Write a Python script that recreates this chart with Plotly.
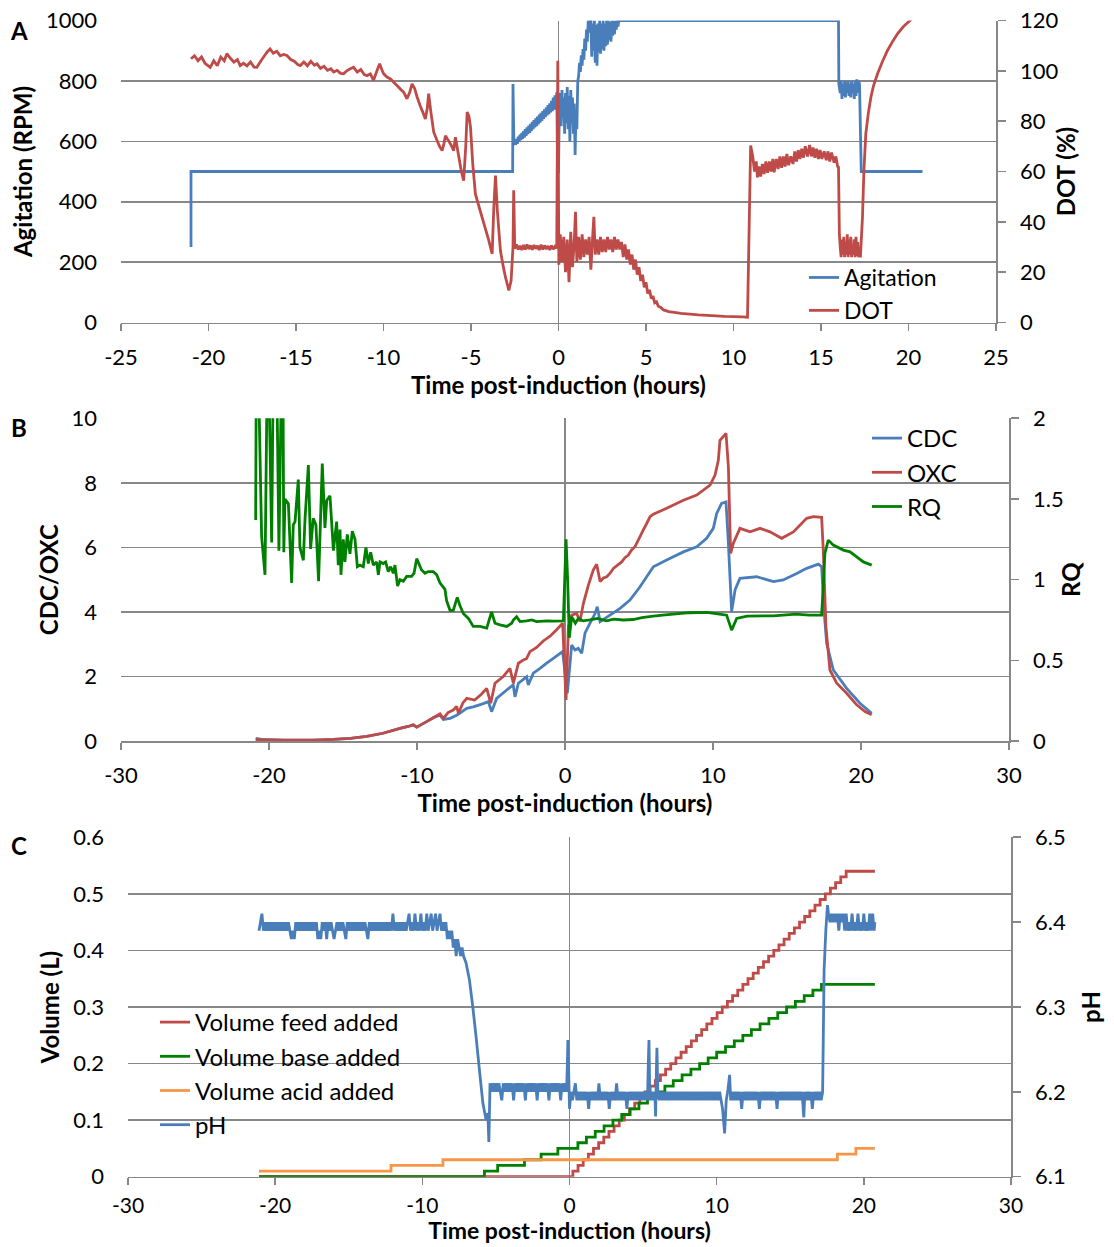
import plotly.graph_objects as go

# ---------------- Panel A: agitation (RPM) and DOT (%) vs time (h) ----------------
agitation_points = [
    (-21.0, 250), (-21.0, 500), (-2.62, 500), (-2.6, 790), (-2.55, 590),
    (-2.5, 600), (-2.45, 588), (-2.4, 608), (-2.35, 592), (-2.3, 615), (-2.25, 598), (-2.2, 622),
    (-2.15, 604), (-2.1, 628), (-2.05, 608), (-2.0, 634), (-1.95, 612), (-1.9, 640), (-1.85, 618),
    (-1.8, 646), (-1.75, 624), (-1.7, 652), (-1.65, 628), (-1.6, 658), (-1.55, 634), (-1.5, 664),
    (-1.45, 640), (-1.4, 670), (-1.35, 646), (-1.3, 676), (-1.25, 650), (-1.2, 682), (-1.15, 656),
    (-1.1, 688), (-1.05, 662), (-1.0, 694), (-0.95, 668), (-0.9, 700), (-0.85, 674), (-0.8, 706),
    (-0.75, 680), (-0.7, 712), (-0.65, 686), (-0.6, 720), (-0.55, 690), (-0.5, 726), (-0.45, 696),
    (-0.4, 734), (-0.35, 700), (-0.3, 745), (-0.25, 705), (-0.2, 752), (-0.15, 712), (-0.1, 762),
    (-0.05, 500), (0.0, 500), (0.05, 720),
    (0.1, 760), (0.15, 650), (0.2, 770), (0.25, 680), (0.3, 745), (0.35, 625), (0.4, 760),
    (0.45, 660), (0.5, 780), (0.55, 640), (0.6, 750), (0.65, 600), (0.7, 770), (0.75, 660),
    (0.8, 745), (0.85, 625), (0.9, 725), (0.95, 555), (1.0, 700), (1.05, 640), (1.1, 800),
    (1.15, 815), (1.2, 860), (1.25, 830), (1.3, 885), (1.35, 850), (1.4, 905), (1.45, 870),
    (1.5, 940), (1.55, 900), (1.6, 970), (1.65, 930), (1.7, 1000), (1.75, 960), (1.8, 1000),
    (1.85, 1000), (1.9, 880), (1.95, 990), (2.0, 900), (2.05, 1000), (2.1, 860), (2.15, 985),
    (2.2, 850), (2.25, 990), (2.3, 895), (2.35, 1000), (2.4, 890), (2.45, 990), (2.5, 905),
    (2.55, 1000), (2.6, 900), (2.65, 990), (2.7, 915), (2.75, 1000), (2.8, 920), (2.85, 1000),
    (2.9, 935), (2.95, 995), (3.0, 930), (3.05, 1000), (3.1, 950), (3.15, 1000), (3.2, 955),
    (3.25, 1000), (3.3, 970), (3.35, 1000), (3.4, 980), (3.45, 1000), (3.55, 1000),
    (16.0, 1000), (16.02, 790), (16.1, 760), (16.15, 800), (16.2, 740), (16.25, 790), (16.3, 750),
    (16.35, 800), (16.4, 745), (16.45, 795), (16.5, 760), (16.55, 800), (16.6, 750), (16.65, 790),
    (16.7, 745), (16.75, 800), (16.8, 760), (16.85, 790), (16.9, 740), (16.95, 800), (17.0, 750),
    (17.05, 805), (17.1, 760), (17.15, 800), (17.2, 790), (17.3, 500), (20.8, 500),
]

dot_points = [
    (-21.0, 104.8), (-20.8, 106.0), (-20.6, 104.0), (-20.4, 105.5), (-20.2, 103.0), (-19.9, 101.4),
    (-19.7, 104.0), (-19.5, 102.0), (-19.3, 105.5), (-19.1, 104.0), (-18.95, 106.8), (-18.75, 105.0),
    (-18.55, 103.5), (-18.35, 104.5), (-18.19, 102.1), (-18.0, 103.0), (-17.8, 102.0), (-17.6, 103.5),
    (-17.4, 101.5), (-17.24, 101.4), (-17.0, 104.0), (-16.8, 106.0), (-16.65, 107.5), (-16.48, 108.7),
    (-16.3, 107.0), (-16.1, 107.8), (-15.9, 106.0), (-15.7, 106.5), (-15.52, 106.1), (-15.3, 104.5),
    (-15.1, 103.8), (-14.9, 102.5), (-14.76, 102.1), (-14.55, 103.5), (-14.35, 102.0), (-14.15, 103.8),
    (-13.95, 102.2), (-13.8, 102.8), (-13.6, 101.0), (-13.4, 101.8), (-13.2, 100.2), (-13.0, 100.8),
    (-12.85, 99.5), (-12.65, 100.2), (-12.45, 99.0), (-12.28, 98.8), (-12.1, 100.0), (-11.9, 100.8),
    (-11.71, 101.4), (-11.5, 99.5), (-11.3, 100.5), (-11.1, 98.5), (-10.94, 98.1), (-10.75, 98.8),
    (-10.57, 96.2), (-10.4, 99.5), (-10.22, 102.8), (-10.1, 100.5), (-9.99, 98.8), (-9.8, 97.5),
    (-9.6, 96.8), (-9.42, 95.5), (-9.2, 94.0), (-9.0, 92.5), (-8.85, 91.5), (-8.66, 88.9),
    (-8.5, 91.5), (-8.37, 94.8), (-8.22, 93.0), (-8.08, 89.6), (-7.9, 86.0), (-7.75, 83.5),
    (-7.61, 80.9), (-7.5, 85.0), (-7.42, 90.9), (-7.3, 84.0), (-7.13, 75.6), (-6.95, 72.5),
    (-6.8, 70.0), (-6.65, 68.3), (-6.55, 71.0), (-6.46, 74.2), (-6.36, 73.0), (-6.27, 72.1),
    (-6.1, 70.0), (-5.99, 68.3), (-5.89, 73.6), (-5.7, 66.0), (-5.55, 60.0), (-5.42, 56.4),
    (-5.3, 70.0), (-5.22, 83.6), (-5.12, 82.0), (-5.03, 77.7), (-4.9, 63.0), (-4.75, 51.1),
    (-4.5, 45.0), (-4.25, 39.0), (-4.0, 33.0), (-3.79, 27.3), (-3.7, 45.0), (-3.6, 58.4),
    (-3.5, 45.0), (-3.32, 28.6), (-3.15, 22.0), (-3.03, 18.0), (-2.92, 15.0), (-2.84, 12.7),
    (-2.71, 16.6), (-2.6, 30.0), (-2.56, 52.5), (-2.5, 29.3),
    (-2.4, 31.0), (-2.3, 29.0), (-2.2, 30.5), (-2.1, 28.8), (-2.0, 30.8), (-1.9, 29.0), (-1.8, 31.0),
    (-1.7, 29.2), (-1.6, 30.6), (-1.5, 28.9), (-1.4, 30.8), (-1.3, 29.3), (-1.2, 30.5), (-1.1, 28.8),
    (-1.0, 30.9), (-0.9, 29.0), (-0.8, 30.6), (-0.7, 29.2), (-0.6, 30.4), (-0.5, 28.8), (-0.4, 30.6),
    (-0.3, 29.1), (-0.2, 30.2), (-0.1, 29.5), (-0.04, 104.0), (0.02, 23.0),
    (0.1, 35), (0.2, 24), (0.3, 34), (0.4, 20), (0.5, 33), (0.6, 16), (0.7, 36), (0.8, 22),
    (0.9, 32), (0.97, 44), (1.05, 24), (1.15, 34), (1.25, 25), (1.35, 35), (1.45, 26), (1.55, 33),
    (1.65, 27), (1.75, 34), (1.85, 21), (1.95, 34), (2.02, 42), (2.1, 27), (2.2, 33), (2.3, 27),
    (2.4, 34), (2.5, 28), (2.6, 33), (2.7, 28), (2.8, 34), (2.9, 29), (3.0, 33), (3.1, 28),
    (3.2, 34), (3.3, 29), (3.4, 33), (3.5, 29),
    (3.6, 32), (3.7, 26), (3.8, 31), (3.9, 25), (4.0, 29), (4.1, 23), (4.2, 27), (4.3, 21),
    (4.4, 25), (4.5, 19), (4.6, 22), (4.7, 16.5), (4.8, 19), (4.9, 14), (5.0, 16), (5.1, 11.5),
    (5.2, 13), (5.3, 9.5), (5.4, 10.5), (5.5, 7.8), (5.6, 8.2), (5.7, 6.5), (5.8, 6.2), (6.0, 5.0),
    (6.3, 4.3), (6.6, 4.0), (7.0, 3.6), (7.5, 3.3), (8.0, 3.0), (8.5, 2.8), (9.0, 2.6), (9.5, 2.4),
    (10.0, 2.3), (10.5, 2.2), (10.8, 2.1), (10.9, 40.0), (10.98, 70.3),
    (11.1, 66), (11.2, 60), (11.3, 64), (11.37, 57.7), (11.45, 62), (11.55, 58), (11.65, 63),
    (11.75, 59), (11.85, 64), (11.95, 59.5), (12.05, 64), (12.15, 60), (12.25, 65), (12.32, 59.7),
    (12.45, 65), (12.55, 61), (12.65, 66), (12.75, 61.5), (12.85, 66), (12.95, 62), (13.05, 67),
    (13.15, 62.5), (13.27, 66), (13.4, 63), (13.5, 68), (13.6, 64), (13.7, 68.5), (13.8, 65),
    (13.9, 69), (14.0, 65.5), (14.1, 70), (14.23, 66), (14.35, 70.5), (14.45, 66), (14.55, 69.5),
    (14.65, 65.5), (14.75, 69), (14.85, 65), (14.95, 68.5), (15.05, 65), (15.18, 68), (15.3, 64.5),
    (15.4, 68), (15.5, 64), (15.6, 67.5), (15.75, 63.5), (15.85, 66), (15.95, 62), (16.0, 61.7),
    (16.05, 35), (16.1, 30), (16.15, 26), (16.2, 33), (16.25, 27), (16.3, 34), (16.35, 26),
    (16.4, 32), (16.45, 27), (16.5, 35), (16.55, 26), (16.6, 33), (16.65, 27), (16.7, 34),
    (16.75, 26), (16.8, 31), (16.85, 27), (16.9, 33), (16.95, 26), (17.0, 34), (17.05, 26.5),
    (17.1, 32), (17.15, 26), (17.2, 30), (17.25, 25.9), (17.37, 41.8), (17.45, 60), (17.56, 75),
    (17.7, 83), (17.85, 89.5), (18.0, 94), (18.23, 98.8), (18.5, 103.5), (18.8, 108.1),
    (19.1, 111.8), (19.38, 114.8), (19.7, 117.5), (20.04, 119.7), (20.15, 120.5),
]

# ---------------- Panel B: CDC / OXC and RQ ----------------
cdc_points = [
    (-20.9, 0.08), (-20.5, 0.05), (-19.0, 0.03), (-17.0, 0.03), (-15.65, 0.05), (-14.5, 0.08),
    (-13.4, 0.14), (-12.3, 0.24), (-11.15, 0.39), (-10.6, 0.45), (-10.25, 0.5), (-10.02, 0.43),
    (-9.35, 0.60), (-8.9, 0.72), (-8.45, 0.80), (-8.22, 0.67), (-7.77, 0.70), (-7.32, 0.80),
    (-6.98, 0.90), (-6.64, 1.01), (-6.2, 1.06), (-5.52, 1.16), (-5.18, 1.22), (-4.96, 0.91),
    (-4.62, 1.32), (-3.94, 1.58), (-3.5, 1.74), (-3.38, 1.37), (-3.15, 1.79), (-2.59, 1.99),
    (-2.48, 1.74), (-2.14, 2.10), (-1.69, 2.25), (-1.24, 2.41), (-0.79, 2.56), (-0.16, 2.77),
    (0.16, 1.48), (0.45, 2.97), (0.68, 2.82), (0.9, 2.87), (1.13, 2.72), (1.35, 3.34), (1.69, 3.65),
    (2.03, 3.95), (2.18, 4.16), (2.37, 3.70), (3.04, 3.90), (3.72, 4.11), (4.39, 4.37), (5.07, 4.78),
    (5.52, 5.09), (5.97, 5.40), (6.87, 5.61), (8.0, 5.86), (8.9, 6.02), (9.57, 6.28), (10.02, 6.59),
    (10.25, 7.05), (10.58, 7.36), (10.88, 7.41), (11.04, 6.12), (11.26, 4.01), (11.49, 4.68),
    (11.82, 5.04), (12.95, 5.09), (14.08, 4.94), (14.75, 4.99), (15.65, 5.19), (16.33, 5.35),
    (17.12, 5.48), (17.34, 5.40), (17.5, 4.06), (17.68, 3.03), (18.13, 2.20), (19.03, 1.63),
    (19.93, 1.17), (20.72, 0.86),
]

oxc_points = [
    (-20.9, 0.04), (-19.0, 0.03), (-17.0, 0.03), (-15.65, 0.05), (-14.5, 0.08), (-13.4, 0.14),
    (-12.3, 0.24), (-11.15, 0.39), (-10.6, 0.45), (-10.25, 0.5), (-10.02, 0.43), (-9.35, 0.60),
    (-8.9, 0.72), (-8.45, 0.84), (-8.22, 0.70), (-7.9, 0.88), (-7.55, 0.96), (-7.32, 1.07),
    (-7.2, 0.86), (-6.9, 1.18), (-6.64, 1.32), (-6.1, 1.27), (-5.65, 1.45), (-5.29, 1.63),
    (-5.02, 1.17), (-4.73, 1.79), (-4.17, 2.0), (-3.72, 2.25), (-3.49, 1.79), (-3.15, 2.41),
    (-2.82, 2.51), (-2.6, 2.55), (-2.37, 2.77), (-1.92, 2.9), (-1.47, 3.1), (-1.01, 3.25),
    (-0.57, 3.45), (-0.16, 3.65), (0.07, 1.27), (0.23, 3.54), (0.45, 3.9), (0.79, 3.95),
    (1.01, 3.7), (1.24, 4.26), (1.58, 4.83), (1.91, 5.30), (2.14, 5.48), (2.37, 4.94), (2.6, 5.05),
    (2.82, 5.09), (3.05, 5.2), (3.27, 5.35), (3.55, 5.45), (3.83, 5.55), (4.05, 5.68), (4.28, 5.76),
    (4.5, 5.92), (4.73, 6.02), (5.07, 6.33), (5.3, 6.55), (5.52, 6.74), (5.75, 6.95), (5.97, 7.03),
    (6.87, 7.21), (8.0, 7.46), (8.9, 7.62), (9.8, 7.93), (10.14, 8.24), (10.36, 8.70), (10.47, 9.32),
    (10.88, 9.53), (11.04, 8.50), (11.19, 5.81), (11.37, 6.12), (11.82, 6.59), (12.5, 6.48),
    (13.18, 6.59), (13.85, 6.48), (14.64, 6.28), (15.43, 6.48), (16.33, 6.90), (16.78, 6.95),
    (17.34, 6.93), (17.45, 5.92), (17.63, 3.54), (17.9, 2.20), (18.36, 1.79), (19.03, 1.48),
    (19.71, 1.12), (20.27, 0.91), (20.72, 0.81),
]

rq_points = [
    (-20.9, 1.37), (-20.86, 2.3), (-20.72, 2.3), (-20.5, 1.27), (-20.27, 1.03), (-20.12, 2.3),
    (-20.02, 2.3), (-19.82, 1.23), (-19.71, 2.3), (-19.48, 2.3), (-19.33, 1.18), (-19.15, 2.3),
    (-19.06, 2.3), (-19.0, 1.17), (-18.92, 1.50), (-18.69, 1.47), (-18.47, 0.98), (-18.36, 1.34),
    (-18.24, 1.36), (-18.02, 1.62), (-17.91, 1.20), (-17.68, 1.12), (-17.57, 1.37), (-17.34, 1.71),
    (-17.19, 1.19), (-17.01, 1.38), (-16.83, 1.34), (-16.65, 0.99), (-16.4, 1.72), (-16.22, 1.32),
    (-16.1, 1.49), (-15.88, 1.52), (-15.77, 1.36), (-15.65, 1.18), (-15.43, 1.36), (-15.32, 1.09),
    (-15.2, 1.31), (-15.14, 1.03), (-14.98, 1.25), (-14.87, 1.11), (-14.71, 1.28), (-14.53, 1.16),
    (-14.37, 1.30), (-14.19, 1.25), (-14.03, 1.08), (-13.85, 1.09), (-13.63, 1.08), (-13.45, 1.20),
    (-13.29, 1.10), (-13.13, 1.17), (-12.95, 1.09), (-12.73, 1.11), (-12.61, 1.03), (-12.5, 1.11),
    (-12.28, 1.10), (-12.12, 1.11), (-11.94, 1.05), (-11.78, 1.08), (-11.6, 1.04), (-11.49, 1.09),
    (-11.31, 0.96), (-11.15, 1.00), (-10.92, 0.99), (-10.7, 1.02), (-10.36, 1.02), (-10.2, 1.04),
    (-10.02, 1.13), (-9.69, 1.06), (-9.46, 1.04), (-9.24, 1.05), (-8.9, 1.05), (-8.67, 1.03),
    (-8.45, 0.98), (-8.11, 0.94), (-8.0, 0.87), (-7.77, 0.81), (-7.55, 0.81), (-7.28, 0.89),
    (-7.1, 0.84), (-6.87, 0.79), (-6.53, 0.76), (-6.2, 0.71), (-5.74, 0.71), (-5.29, 0.70),
    (-4.96, 0.80), (-4.73, 0.73), (-4.39, 0.72), (-3.94, 0.71), (-3.6, 0.73), (-3.49, 0.75),
    (-3.27, 0.77), (-3.04, 0.74), (-2.59, 0.745), (-2.25, 0.75), (-1.92, 0.74), (-1.24, 0.745),
    (-0.79, 0.743), (-0.11, 0.745), (0.07, 1.25), (0.17, 1.02), (0.29, 0.64), (0.45, 0.77),
    (0.7, 0.73), (0.9, 0.76), (1.2, 0.745), (1.69, 0.75), (2.2, 0.76), (2.8, 0.745), (3.3, 0.755),
    (3.94, 0.75), (4.6, 0.753), (5.2, 0.765), (5.97, 0.774), (6.6, 0.78), (7.32, 0.786), (8.4, 0.795),
    (9.57, 0.797), (10.2, 0.79), (10.92, 0.78), (11.26, 0.687), (11.6, 0.76), (12.3, 0.774),
    (14.08, 0.776), (15.6, 0.786), (16.5, 0.78), (17.34, 0.78), (17.45, 0.956), (17.56, 1.162),
    (17.79, 1.245), (18.13, 1.214), (18.81, 1.183), (19.26, 1.172), (19.71, 1.141), (20.16, 1.11),
    (20.72, 1.09),
]

# ---------------- Panel C: volumes (L) and pH ----------------
feed_time = [-21.1, 0.23, 0.58, 0.93, 1.28, 1.63, 1.98, 2.33, 2.68, 3.03, 3.38, 3.73, 4.08, 4.43,
             4.78, 5.13, 5.48, 5.83, 6.18, 6.53, 6.88, 7.23, 7.58, 7.93, 8.28, 8.63, 8.98, 9.33,
             9.68, 10.03, 10.38, 10.73, 11.08, 11.43, 11.78, 12.13, 12.48, 12.83, 13.18, 13.53,
             13.88, 14.23, 14.58, 14.93, 15.28, 15.63, 15.98, 16.33, 16.68, 17.03, 17.38, 17.73,
             18.08, 18.43, 18.80, 20.75]
feed_vol = [0.0, 0.01, 0.02, 0.03, 0.04, 0.05, 0.06, 0.07, 0.08, 0.09, 0.10, 0.11, 0.12, 0.13,
            0.14, 0.15, 0.16, 0.17, 0.18, 0.19, 0.20, 0.21, 0.22, 0.23, 0.24, 0.25, 0.26, 0.27,
            0.28, 0.29, 0.30, 0.31, 0.32, 0.33, 0.34, 0.35, 0.36, 0.37, 0.38, 0.39, 0.40, 0.41,
            0.42, 0.43, 0.44, 0.45, 0.46, 0.47, 0.48, 0.49, 0.50, 0.51, 0.52, 0.53, 0.54, 0.54]

base_time = [-21.1, -5.78, -4.88, -3.06, -1.93, -0.79, 0.57, 1.15, 1.75, 2.35, 2.95, 3.55, 4.12,
             4.72, 5.30, 5.90, 6.48, 7.05, 7.65, 8.25, 8.84, 9.42, 10.00, 10.60, 11.20, 11.78,
             12.36, 12.95, 13.55, 14.15, 14.75, 15.35, 15.95, 16.54, 17.12, 20.75]
base_vol = [0.0, 0.01, 0.02, 0.03, 0.04, 0.05, 0.06, 0.07, 0.08, 0.09, 0.10, 0.11, 0.12, 0.13,
            0.14, 0.15, 0.16, 0.17, 0.18, 0.19, 0.20, 0.21, 0.22, 0.23, 0.24, 0.25, 0.26, 0.27,
            0.28, 0.29, 0.30, 0.31, 0.32, 0.33, 0.34, 0.34]

acid_time = [-21.1, -12.13, -8.6, 18.2, 19.46, 20.75]
acid_vol = [0.01, 0.02, 0.03, 0.04, 0.05, 0.05]

ph_points = [
    (-21.1, 6.39), (-21.0, 6.40), (-20.9, 6.41), (-20.8, 6.39), (-20.7, 6.40), (-20.6, 6.39),
    (-20.5, 6.40), (-20.4, 6.39), (-20.3, 6.40), (-20.2, 6.39), (-20.1, 6.40), (-20.0, 6.39),
    (-19.9, 6.40), (-19.8, 6.39), (-19.7, 6.40), (-19.6, 6.39), (-19.5, 6.40), (-19.4, 6.39),
    (-19.3, 6.40), (-19.2, 6.39), (-19.1, 6.40), (-19.0, 6.39), (-18.9, 6.38), (-18.8, 6.39),
    (-18.7, 6.38), (-18.6, 6.40), (-18.5, 6.39), (-18.4, 6.40), (-18.3, 6.39), (-18.2, 6.40),
    (-18.1, 6.39), (-18.0, 6.40), (-17.9, 6.39), (-17.8, 6.40), (-17.7, 6.39), (-17.6, 6.40),
    (-17.5, 6.39), (-17.4, 6.40), (-17.3, 6.39), (-17.2, 6.40), (-17.1, 6.38), (-17.0, 6.39),
    (-16.9, 6.38), (-16.8, 6.40), (-16.7, 6.39), (-16.6, 6.40), (-16.5, 6.38), (-16.4, 6.40),
    (-16.3, 6.39), (-16.2, 6.40), (-16.1, 6.39), (-16.0, 6.38), (-15.9, 6.39), (-15.8, 6.40),
    (-15.7, 6.39), (-15.6, 6.40), (-15.5, 6.39), (-15.4, 6.40), (-15.3, 6.39), (-15.2, 6.38),
    (-15.1, 6.40), (-15.0, 6.39), (-14.9, 6.40), (-14.8, 6.39), (-14.7, 6.40), (-14.6, 6.39),
    (-14.5, 6.40), (-14.4, 6.39), (-14.3, 6.40), (-14.2, 6.39), (-14.1, 6.40), (-14.0, 6.39),
    (-13.9, 6.40), (-13.8, 6.39), (-13.7, 6.38), (-13.6, 6.40), (-13.5, 6.39), (-13.4, 6.40),
    (-13.3, 6.39), (-13.2, 6.40), (-13.1, 6.39), (-13.0, 6.40), (-12.9, 6.39), (-12.8, 6.40),
    (-12.7, 6.39), (-12.6, 6.40), (-12.5, 6.39), (-12.4, 6.40), (-12.3, 6.39), (-12.2, 6.40),
    (-12.1, 6.39), (-12.0, 6.41), (-11.9, 6.39), (-11.8, 6.40), (-11.7, 6.39), (-11.6, 6.40),
    (-11.5, 6.39), (-11.4, 6.40), (-11.3, 6.39), (-11.2, 6.40), (-11.1, 6.39), (-11.0, 6.40),
    (-10.9, 6.41), (-10.8, 6.39), (-10.7, 6.40), (-10.6, 6.39), (-10.5, 6.41), (-10.4, 6.39),
    (-10.3, 6.40), (-10.2, 6.39), (-10.1, 6.41), (-10.0, 6.39), (-9.9, 6.40), (-9.8, 6.39),
    (-9.7, 6.41), (-9.6, 6.39), (-9.5, 6.40), (-9.4, 6.41), (-9.3, 6.39), (-9.2, 6.40),
    (-9.1, 6.41), (-9.0, 6.39), (-8.9, 6.40), (-8.8, 6.41), (-8.7, 6.39), (-8.6, 6.40),
    (-8.5, 6.39), (-8.4, 6.40), (-8.3, 6.38), (-8.2, 6.39), (-8.1, 6.38), (-8.0, 6.39),
    (-7.9, 6.37), (-7.8, 6.38), (-7.7, 6.36), (-7.6, 6.38), (-7.5, 6.37), (-7.4, 6.36),
    (-7.3, 6.37), (-7.2, 6.36), (-7.03, 6.352), (-6.8, 6.332), (-6.57, 6.30), (-6.35, 6.265),
    (-6.12, 6.226), (-5.89, 6.187), (-5.67, 6.167), (-5.55, 6.175), (-5.48, 6.141), (-5.4, 6.21),
    (-5.3, 6.20), (-5.2, 6.21), (-5.1, 6.20), (-5.0, 6.21), (-4.9, 6.20), (-4.8, 6.21),
    (-4.7, 6.20), (-4.6, 6.19), (-4.5, 6.21), (-4.4, 6.20), (-4.3, 6.21), (-4.2, 6.20),
    (-4.1, 6.21), (-4.0, 6.20), (-3.9, 6.21), (-3.8, 6.19), (-3.7, 6.21), (-3.6, 6.20),
    (-3.5, 6.21), (-3.4, 6.20), (-3.3, 6.21), (-3.2, 6.20), (-3.1, 6.21), (-3.0, 6.19),
    (-2.9, 6.21), (-2.8, 6.20), (-2.7, 6.21), (-2.6, 6.20), (-2.5, 6.21), (-2.4, 6.20),
    (-2.3, 6.21), (-2.2, 6.19), (-2.1, 6.21), (-2.0, 6.20), (-1.9, 6.21), (-1.8, 6.20),
    (-1.7, 6.21), (-1.6, 6.20), (-1.5, 6.21), (-1.4, 6.19), (-1.3, 6.21), (-1.2, 6.20),
    (-1.1, 6.21), (-1.0, 6.20), (-0.9, 6.21), (-0.8, 6.20), (-0.7, 6.21), (-0.6, 6.19),
    (-0.5, 6.21), (-0.4, 6.20), (-0.3, 6.21), (-0.2, 6.20), (-0.15, 6.23), (-0.11, 6.261),
    (-0.05, 6.22), (0.0, 6.18), (0.1, 6.20),
    (0.2, 6.19), (0.3, 6.20), (0.4, 6.21), (0.5, 6.19), (0.6, 6.20), (0.7, 6.19), (0.8, 6.20),
    (0.9, 6.19), (1.0, 6.20), (1.1, 6.19), (1.2, 6.20), (1.3, 6.18), (1.4, 6.20), (1.5, 6.19),
    (1.6, 6.20), (1.7, 6.19), (1.8, 6.20), (1.9, 6.19), (2.0, 6.21), (2.1, 6.19), (2.2, 6.20),
    (2.3, 6.19), (2.4, 6.20), (2.5, 6.19), (2.6, 6.20), (2.7, 6.18), (2.8, 6.20), (2.9, 6.19),
    (3.0, 6.20), (3.1, 6.19), (3.2, 6.21), (3.3, 6.19), (3.4, 6.20), (3.5, 6.19), (3.6, 6.20),
    (3.7, 6.19), (3.8, 6.20), (3.9, 6.18), (4.0, 6.20), (4.1, 6.19), (4.2, 6.20), (4.3, 6.19),
    (4.4, 6.20), (4.5, 6.19), (4.6, 6.20), (4.7, 6.19), (4.8, 6.20), (4.9, 6.19), (5.0, 6.20),
    (5.1, 6.19), (5.2, 6.20), (5.3, 6.19), (5.35, 6.23), (5.4, 6.261), (5.45, 6.20), (5.5, 6.19),
    (5.6, 6.20), (5.7, 6.19), (5.8, 6.20), (5.85, 6.171), (5.9, 6.22), (5.94, 6.252), (6.0, 6.20),
    (6.1, 6.19), (6.2, 6.20), (6.3, 6.19), (6.4, 6.20), (6.5, 6.19), (6.6, 6.20), (6.7, 6.19),
    (6.8, 6.20), (6.9, 6.19), (7.0, 6.20), (7.1, 6.19), (7.2, 6.20), (7.3, 6.19), (7.4, 6.20),
    (7.5, 6.19), (7.6, 6.20), (7.7, 6.19), (7.8, 6.20), (7.9, 6.19), (8.0, 6.20), (8.1, 6.19),
    (8.2, 6.20), (8.3, 6.19), (8.4, 6.20), (8.5, 6.19), (8.6, 6.20), (8.7, 6.19), (8.8, 6.20),
    (8.9, 6.19), (9.0, 6.20), (9.1, 6.19), (9.2, 6.20), (9.3, 6.19), (9.4, 6.20), (9.5, 6.19),
    (9.6, 6.20), (9.7, 6.19), (9.8, 6.20), (9.9, 6.19), (10.0, 6.20), (10.1, 6.19), (10.2, 6.20),
    (10.3, 6.19), (10.4, 6.18), (10.54, 6.151), (10.65, 6.19), (10.75, 6.20), (10.88, 6.22),
    (10.95, 6.19), (11.0, 6.20), (11.1, 6.19), (11.2, 6.20), (11.3, 6.19), (11.4, 6.20),
    (11.5, 6.19), (11.6, 6.20), (11.7, 6.18), (11.8, 6.20), (11.9, 6.19), (12.0, 6.20),
    (12.1, 6.19), (12.2, 6.20), (12.3, 6.19), (12.4, 6.20), (12.5, 6.19), (12.6, 6.20),
    (12.7, 6.19), (12.8, 6.20), (12.9, 6.18), (13.0, 6.20), (13.1, 6.19), (13.2, 6.20),
    (13.3, 6.19), (13.4, 6.20), (13.5, 6.19), (13.6, 6.20), (13.7, 6.19), (13.8, 6.20),
    (13.9, 6.19), (14.0, 6.20), (14.1, 6.18), (14.2, 6.20), (14.3, 6.19), (14.4, 6.20),
    (14.5, 6.19), (14.6, 6.20), (14.7, 6.19), (14.8, 6.20), (14.9, 6.19), (15.0, 6.20),
    (15.1, 6.19), (15.2, 6.20), (15.3, 6.19), (15.4, 6.20), (15.5, 6.19), (15.6, 6.20),
    (15.7, 6.19), (15.8, 6.20), (15.92, 6.17), (16.0, 6.20), (16.1, 6.19), (16.2, 6.20),
    (16.3, 6.19), (16.4, 6.20), (16.5, 6.18), (16.6, 6.20), (16.7, 6.19), (16.8, 6.20),
    (16.9, 6.19), (17.0, 6.20), (17.1, 6.19), (17.2, 6.20),
    (17.3, 6.344), (17.42, 6.391), (17.53, 6.42), (17.6, 6.41),
    (17.7, 6.40), (17.8, 6.41), (17.9, 6.40), (18.0, 6.41), (18.1, 6.40), (18.2, 6.41),
    (18.3, 6.39), (18.4, 6.41), (18.5, 6.40), (18.6, 6.41), (18.7, 6.39), (18.8, 6.41),
    (18.9, 6.39), (19.0, 6.40), (19.1, 6.39), (19.2, 6.41), (19.3, 6.39), (19.4, 6.40),
    (19.5, 6.39), (19.6, 6.41), (19.7, 6.39), (19.8, 6.40), (19.9, 6.39), (20.0, 6.41),
    (20.1, 6.39), (20.2, 6.40), (20.3, 6.39), (20.4, 6.41), (20.5, 6.39), (20.6, 6.41),
    (20.7, 6.39), (20.75, 6.40),
]

# ---------------- tick labels ----------------
a_x_ticks = [-25, -20, -15, -10, -5, 0, 5, 10, 15, 20, 25]
a_x_labels = ["-25", "-20", "-15", "-10", "-5", "0", "5", "10", "15", "20", "25"]
bc_x_ticks = [-30, -20, -10, 0, 10, 20, 30]
bc_x_labels = ["-30", "-20", "-10", "0", "10", "20", "30"]

# ---------------- styling ----------------
BLUE = "#4A7EBB"
RED = "#BE4B48"
GREEN = "#008000"
ORANGE = "#F79646"
GRID = "#878787"
FONT = "Lato"
TICK_FONT = dict(family=FONT, size=22, color="black")
TITLE_FONT = dict(family=FONT, size=24, color="black")
LW = 2.8

# page body margin is removed (post_script below), so the figure fills the window
W, H = 1114, 1247


def px_x(p):
    return p / W


def px_y(p):
    return 1 - p / H


def unzip(points):
    return [p[0] for p in points], [p[1] for p in points]


fig = go.Figure()

t, v = unzip(agitation_points)
fig.add_trace(go.Scatter(x=t, y=v, name="Agitation", mode="lines", xaxis="x", yaxis="y",
                         line=dict(color=BLUE, width=LW, simplify=False), legend="legend"))
t, v = unzip(dot_points)
fig.add_trace(go.Scatter(x=t, y=v, name="DOT", mode="lines", xaxis="x", yaxis="y2",
                         line=dict(color=RED, width=LW, simplify=False), legend="legend"))

t, v = unzip(cdc_points)
fig.add_trace(go.Scatter(x=t, y=v, name="CDC", mode="lines", xaxis="x2", yaxis="y3",
                         line=dict(color=BLUE, width=LW, simplify=False), legend="legend2",
                         legendgroup="cdc"))
t, v = unzip(oxc_points)
fig.add_trace(go.Scatter(x=t, y=v, name="OXC", mode="lines", xaxis="x2", yaxis="y3",
                         line=dict(color=RED, width=LW, simplify=False), legend="legend2",
                         legendgroup="oxc"))
t, v = unzip(rq_points)
fig.add_trace(go.Scatter(x=t, y=v, name="RQ", mode="lines", xaxis="x2", yaxis="y4",
                         line=dict(color=GREEN, width=LW, simplify=False), legend="legend2",
                         legendgroup="rq"))

fig.add_trace(go.Scatter(x=feed_time, y=feed_vol, name="Volume feed added", mode="lines",
                         xaxis="x3", yaxis="y5", line=dict(color=RED, width=LW, shape="hv"),
                         legend="legend3", legendgroup="feed"))
fig.add_trace(go.Scatter(x=base_time, y=base_vol, name="Volume base added", mode="lines",
                         xaxis="x3", yaxis="y5", line=dict(color=GREEN, width=LW, shape="hv"),
                         legend="legend3", legendgroup="base"))
fig.add_trace(go.Scatter(x=acid_time, y=acid_vol, name="Volume acid added", mode="lines",
                         xaxis="x3", yaxis="y5", line=dict(color=ORANGE, width=LW, shape="hv"),
                         legend="legend3", legendgroup="acid"))
t, v = unzip(ph_points)
fig.add_trace(go.Scatter(x=t, y=v, name="pH", mode="lines", xaxis="x3", yaxis="y6",
                         line=dict(color=BLUE, width=LW, simplify=False), legend="legend3",
                         legendgroup="ph"))


def x_axis(domain, anchor, rng, vals, labels, label_gap=7, title_gap=0,
           tick_size=22, title_size=24):
    return dict(domain=domain, anchor=anchor, range=rng, tickmode="array", tickvals=vals,
                ticktext=labels, showgrid=False, zeroline=True, zerolinecolor=GRID,
                zerolinewidth=1.6, showline=True, linecolor=GRID, linewidth=1.6,
                ticks="outside", ticklen=7, tickwidth=1.6, tickcolor=GRID,
                tickfont=dict(family=FONT, size=tick_size, color="black"),
                ticklabelstandoff=label_gap, automargin=False, ticklabeloverflow="allow",
                title=dict(text="<b>Time post-induction (hours)</b>",
                           font=dict(family=FONT, size=title_size, color="black"),
                           standoff=title_gap))


def y_left(domain, anchor, rng, dtick, title):
    return dict(domain=domain, anchor=anchor, range=rng, dtick=dtick, tick0=rng[0],
                showgrid=True, gridcolor=GRID, gridwidth=1.6, zeroline=False, showline=False,
                ticks="", tickfont=TICK_FONT, ticklabelstandoff=23, automargin=False,
                ticklabeloverflow="allow",
                title=dict(text=title, font=TITLE_FONT, standoff=6))


def y_right(overlay, anchor, rng, dtick, title, standoff):
    return dict(overlaying=overlay, anchor=anchor, side="right", range=rng, dtick=dtick,
                tick0=rng[0], showgrid=False, zeroline=False, showline=True, linecolor=GRID,
                linewidth=1.6, ticks="outside", ticklen=8, tickwidth=1.6, tickcolor=GRID,
                tickfont=TICK_FONT, ticklabelstandoff=10, automargin=False,
                ticklabeloverflow="allow",
                title=dict(text=title, font=TITLE_FONT, standoff=standoff))


dom_a_x = [px_x(121), px_x(996)]
dom_a_y = [px_y(322.5), px_y(20.5)]
dom_b_x = [px_x(121), px_x(1009)]
dom_b_y = [px_y(741), px_y(418.3)]
dom_c_x = [px_x(128), px_x(1011)]
dom_c_y = [px_y(1176.7), px_y(837.3)]

legend_common = dict(bgcolor="rgba(0,0,0,0)", borderwidth=0,
                     xanchor="left", yanchor="top", traceorder="normal")

fig.update_layout(
    width=W, height=H, margin=dict(l=0, r=0, t=0, b=0, pad=0, autoexpand=False),
    paper_bgcolor="white", plot_bgcolor="white",
    font=dict(family=FONT, color="black"),
    hovermode=False,
    xaxis=x_axis(dom_a_x, "y", [-25, 25], a_x_ticks, a_x_labels),
    yaxis=y_left(dom_a_y, "x", [0, 1000], 200, "<b>Agitation (RPM)</b>"),
    yaxis2=y_right("y", "x", [0, 120], 20, "<b>DOT (%)</b>", 0),
    xaxis2=x_axis(dom_b_x, "y3", [-30, 30], bc_x_ticks, bc_x_labels),
    yaxis3=y_left(dom_b_y, "x2", [0, 10], 2, "<b>CDC/OXC</b>"),
    yaxis4=y_right("y3", "x2", [0, 2], 0.5, "<b>RQ</b>", 0),
    xaxis3=x_axis(dom_c_x, "y5", [-30, 30], bc_x_ticks, bc_x_labels, label_gap=2,
                  title_gap=6, tick_size=21, title_size=23),
    yaxis5=y_left(dom_c_y, "x3", [0, 0.6], 0.1, "<b>Volume (L)</b>"),
    yaxis6=y_right("y5", "x3", [6.1, 6.5], 0.1, "<b>pH</b>", 18),
    legend=dict(x=px_x(804), y=px_y(256), font=dict(family=FONT, size=23, color="black"),
                **legend_common),
    legend2=dict(x=px_x(867), y=px_y(416), tracegroupgap=0,
                 font=dict(family=FONT, size=24, color="black"), **legend_common),
    legend3=dict(x=px_x(155), y=px_y(1000), tracegroupgap=5,
                 font=dict(family=FONT, size=24, color="black"), **legend_common),
    showlegend=True,
)

for letter, ypx in (("A", 30), ("B", 427), ("C", 845)):
    fig.add_annotation(text="<b>%s</b>" % letter, xref="paper", yref="paper",
                       x=px_x(19), y=px_y(ypx), showarrow=False,
                       font=dict(family=FONT, size=24, color="black"),
                       xanchor="center", yanchor="middle")

fig.write_html("out.html",
               config={"displayModeBar": False, "staticPlot": True},
               post_script="document.body.style.margin='0px';"
                           "document.body.style.overflow='hidden';")
